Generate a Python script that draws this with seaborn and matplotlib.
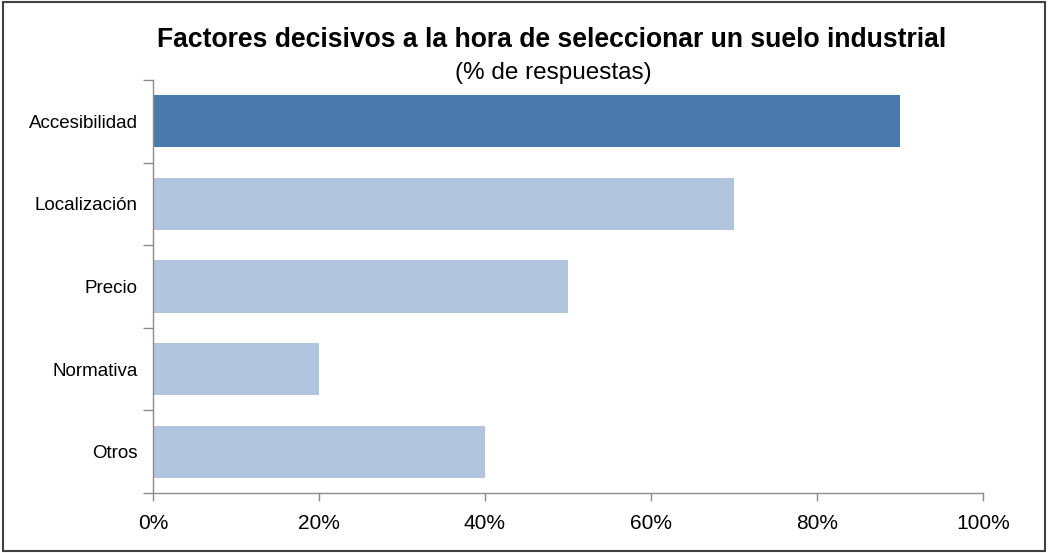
import matplotlib
matplotlib.use("Agg")
import matplotlib.pyplot as plt
import seaborn as sns
import pandas as pd
import numpy as np
from matplotlib.patches import Rectangle
from matplotlib.ticker import FixedLocator, PercentFormatter

categories = ['Accesibilidad', 'Localización', 'Precio', 'Normativa', 'Otros']
values = [90, 70, 50, 20, 40]
bar_colors = ['#4a7aab', '#b2c5de', '#b2c5de', '#b2c5de', '#b2c5de']

df = pd.DataFrame({'factor': categories, 'pct': values})

sns.set_style('white')
plt.rcParams['font.family'] = ['Liberation Sans', 'DejaVu Sans']
plt.rcParams['text.color'] = 'black'
plt.rcParams['xtick.labelcolor'] = 'black'
plt.rcParams['ytick.labelcolor'] = 'black'

fig = plt.figure(figsize=(10.48, 5.53), dpi=100)
ax = fig.add_axes([153 / 1048, 1 - 493 / 553, (983 - 153) / 1048, (493 - 80) / 553])

sns.barplot(data=df, x='pct', y='factor', hue='factor', palette=bar_colors,
            orient='h', width=0.63, legend=False, ax=ax, saturation=1, linewidth=0)

ax.set_xlim(0, 100)
ax.set_ylim(len(categories) - 0.5, -0.5)
ax.set_xticks(np.arange(0, 101, 20))
ax.xaxis.set_major_formatter(PercentFormatter(decimals=0))
ax.set_xlabel('')
ax.set_ylabel('')

# y ticks sit between categories
ax.yaxis.set_minor_locator(FixedLocator(np.arange(-0.5, len(categories), 1)))
ax.tick_params(axis='y', which='major', length=0, pad=11, labelsize=13.5)
ax.tick_params(axis='y', which='minor', length=7, width=1, color='#8c8c8c', direction='out', left=True)
ax.tick_params(axis='x', which='major', length=6, width=1, color='#8c8c8c', direction='out',
               bottom=True, labelsize=15, pad=9)

for side in ['top', 'right']:
    ax.spines[side].set_visible(False)
for side in ['left', 'bottom']:
    ax.spines[side].set_color('#8c8c8c')
    ax.spines[side].set_linewidth(1)

fig.text(552 / 1048, 1 - 40 / 553, 'Factores decisivos a la hora de seleccionar un suelo industrial',
         ha='center', va='center', fontsize=19.1, fontweight='bold')
fig.text(553 / 1048, 1 - 73 / 553, '(% de respuestas)', ha='center', va='center', fontsize=17.5)

fig.patches.append(Rectangle((3 / 1048, 2 / 553), 1 - 6 / 1048, 1 - 4 / 553,
                             transform=fig.transFigure, fill=False,
                             edgecolor='#404040', linewidth=1.5))

fig.savefig('out.png', dpi=100)
